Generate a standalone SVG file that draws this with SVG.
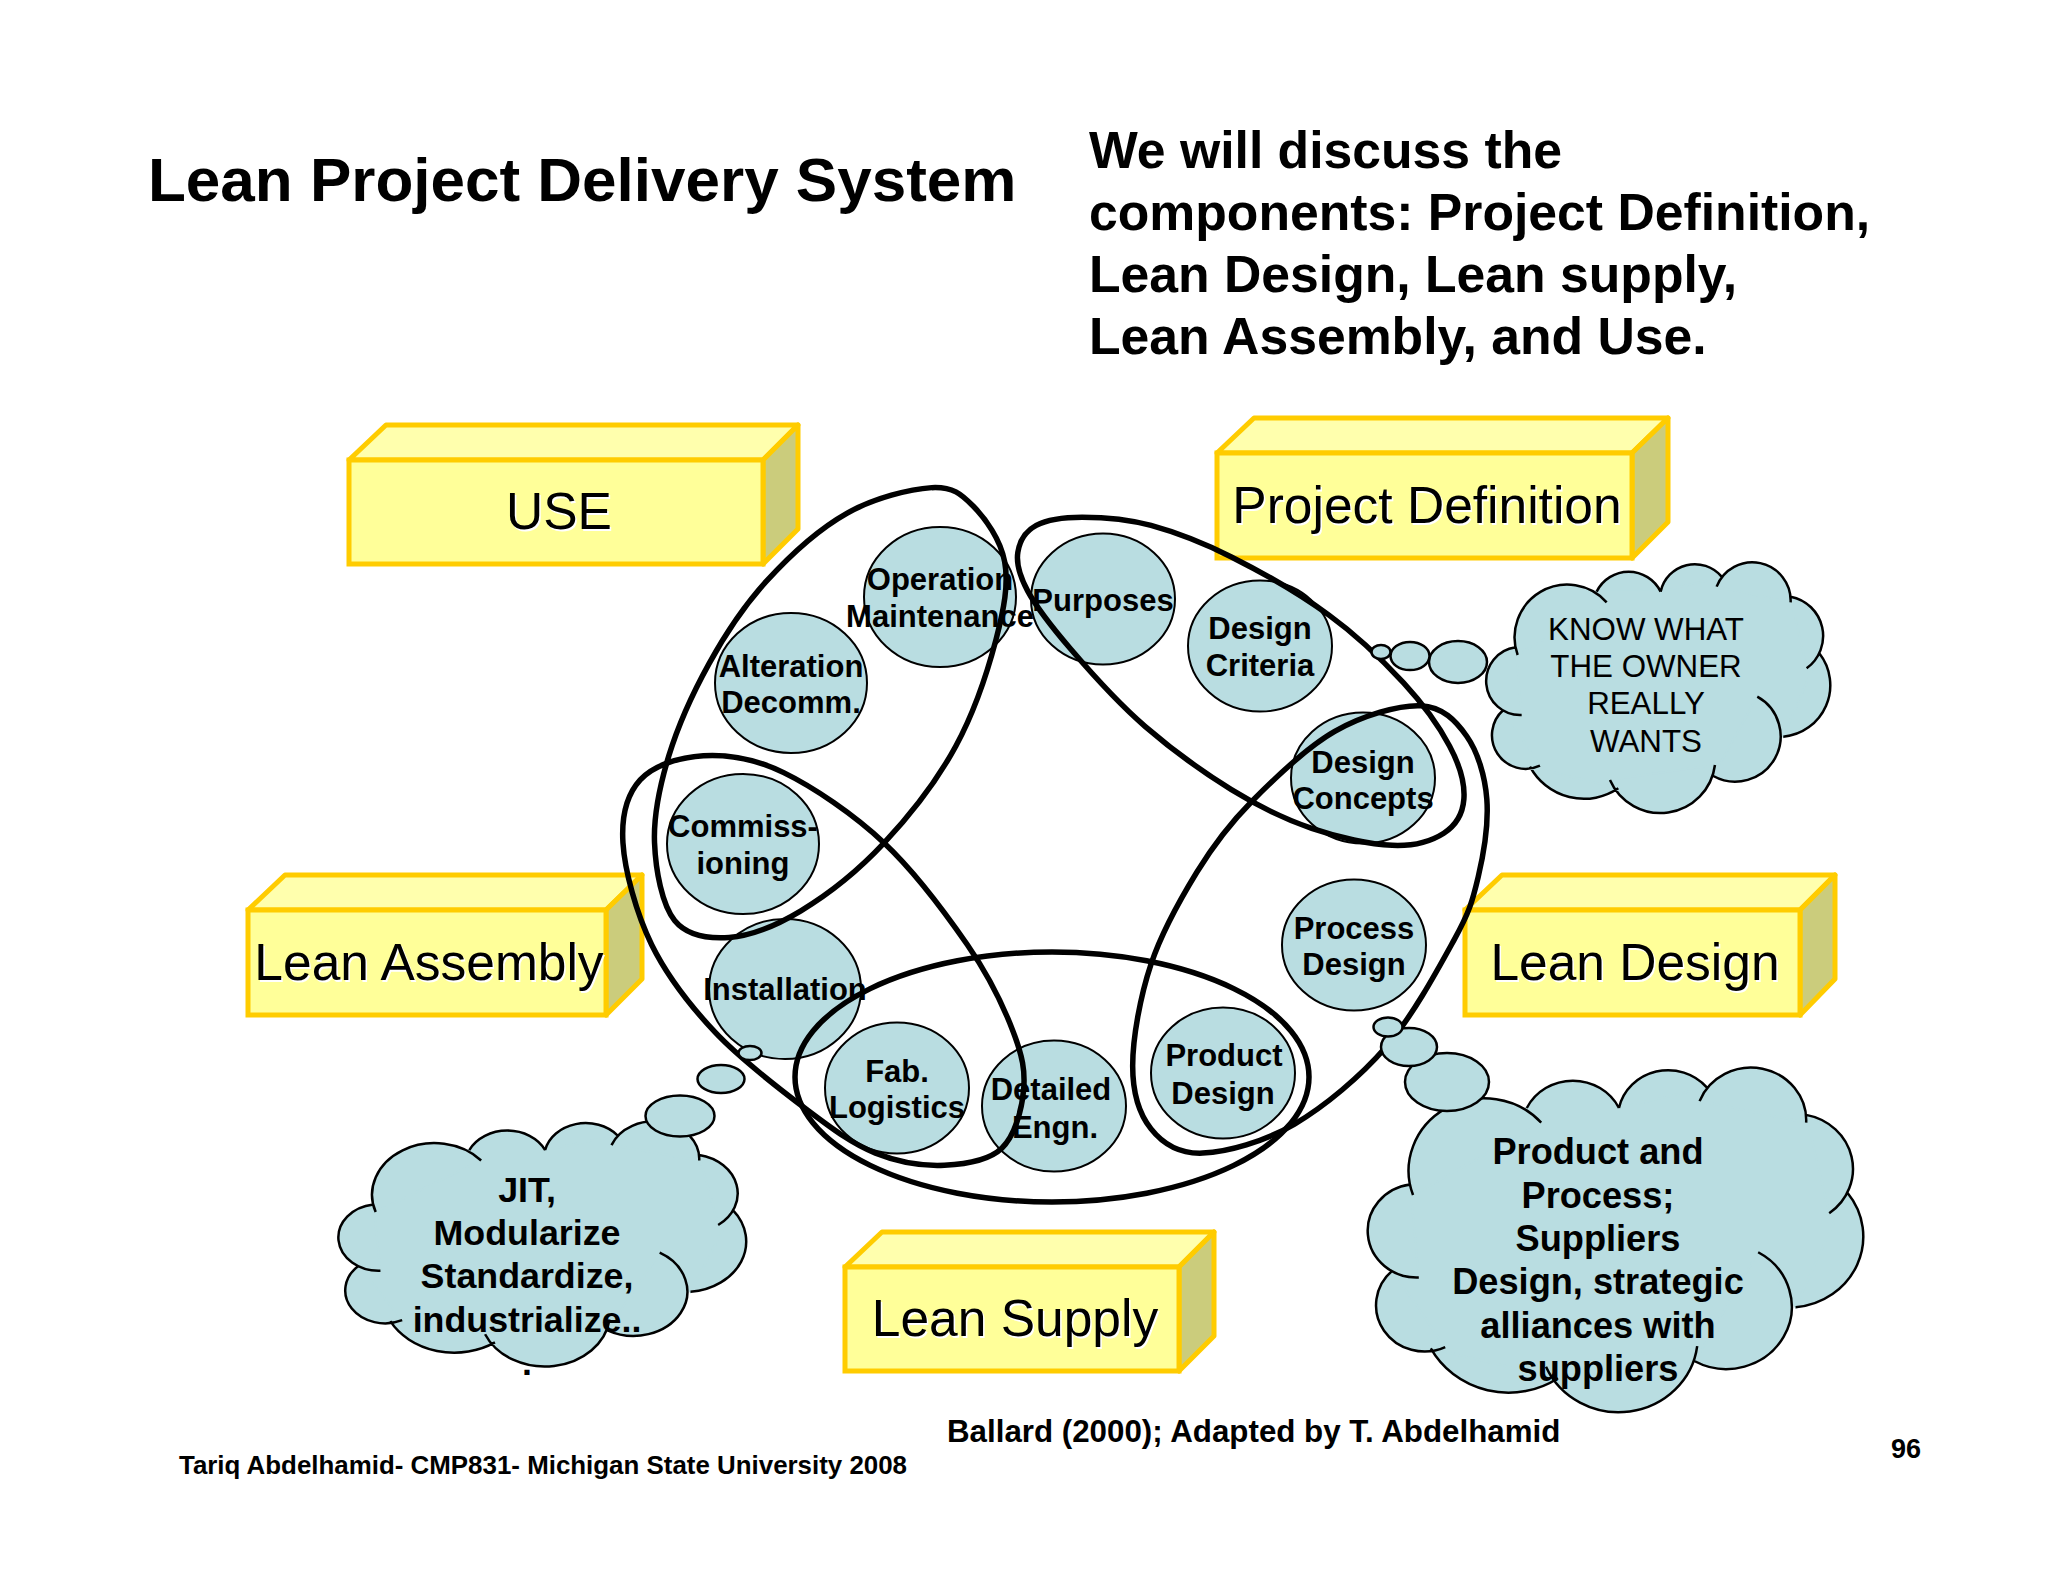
<svg xmlns="http://www.w3.org/2000/svg" width="2048" height="1582" viewBox="0 0 2048 1582">
<style>
text{font-family:"Liberation Sans",Arial,sans-serif;fill:#000;text-anchor:middle}
.t{font-weight:bold;text-anchor:start}
.n{font-weight:bold;font-size:31px}
.b{font-size:51.5px;text-shadow:1.5px 1.5px 0 #fff}
.front{fill:#ffff99;stroke:#ffcc00;stroke-width:5}
.top{fill:#ffffad;stroke:#ffcc00;stroke-width:5;stroke-linejoin:round}
.side{fill:#cbcc7c;stroke:#ffcc00;stroke-width:5;stroke-linejoin:round}
.c{fill:#b9dde1;stroke:#000;stroke-width:2}
.bub{fill:#b9dde1;stroke:#000;stroke-width:2.5}
.e{fill:none;stroke:#000;stroke-width:5.5;vector-effect:non-scaling-stroke}
.cf{fill:#b9dde1;stroke:none}
.cp{fill:#b9dde1;stroke:#b9dde1;stroke-width:2;vector-effect:non-scaling-stroke}
.cs{fill:none;stroke:#000;stroke-width:2.5;vector-effect:non-scaling-stroke}
</style>
<defs>
<g id="cloud">
<path class="cf" d="M503 345A158 158 0 0 1 770 187Z M740 155A107 107 0 0 1 932 155Z M932 155A105 105 0 0 1 1115 110Z M1100 140A115 115 0 0 1 1322 187Z M1322 170A120 120 0 0 1 1370 385Z M1408 340A155 155 0 0 1 1300 590Z M1222 470A136 136 0 0 1 1090 708Z M1095 675A165 165 0 0 1 780 720Z M805 745A184 184 0 0 1 540 680Z M570 677A101 101 0 0 1 460 510Z M515 525A102 102 0 0 1 497 322Z"/>
<path class="cp" d="M503 345L770 187L740 155L932 155L1115 110L1100 140L1322 187L1322 170L1370 385L1408 340L1300 590L1222 470L1090 708L1095 675L780 720L805 745L540 680L570 677L460 510L515 525L497 322Z"/>
<path class="cs" d="M503 345A158 158 0 0 1 770 187 M740 155A107 107 0 0 1 932 155 M932 155A105 105 0 0 1 1115 110 M1100 140A115 115 0 0 1 1322 187 M1322 170A120 120 0 0 1 1370 385 M1408 340A155 155 0 0 1 1300 590 M1222 470A136 136 0 0 1 1090 708 M1095 675A165 165 0 0 1 780 720 M805 745A184 184 0 0 1 540 680 M570 677A101 101 0 0 1 460 510 M515 525A102 102 0 0 1 497 322"/>
</g>
</defs>
<rect width="2048" height="1582" fill="#fff"/>
<g id="title">
<text class="t" x="148" y="201" font-size="62">Lean Project Delivery System</text>
<text class="t" x="1089" y="168" font-size="51.7">We will discuss the</text>
<text class="t" x="1089" y="230" font-size="51.7">components: Project Definition,</text>
<text class="t" x="1089" y="292" font-size="51.7">Lean Design, Lean supply,</text>
<text class="t" x="1089" y="354" font-size="51.7">Lean Assembly, and Use.</text>
</g>
<g id="box-use">
<path class="top" d="M349 460L386 425H798L763 460Z"/><path class="side" d="M763 460L798 425V529L763 564Z"/><rect class="front" x="349" y="460" width="414" height="104"/>
<text class="b" x="559" y="529">USE</text></g>
<g id="box-project-definition">
<path class="top" d="M1217 453L1254 418H1668L1632 453Z"/><path class="side" d="M1632 453L1668 418V522L1632 558Z"/><rect class="front" x="1217" y="453" width="415" height="105"/>
<text class="b" x="1427" y="523">Project Definition</text></g>
<g id="box-lean-assembly">
<path class="top" d="M248 910L285 875H642L606 910Z"/><path class="side" d="M606 910L642 875V979L606 1015Z"/><rect class="front" x="248" y="910" width="358" height="105"/>
<text class="b" x="429" y="980">Lean Assembly</text></g>
<g id="box-lean-design">
<path class="top" d="M1465 910L1502 875H1835L1800 910Z"/><path class="side" d="M1800 910L1835 875V979L1800 1015Z"/><rect class="front" x="1465" y="910" width="335" height="105"/>
<text class="b" x="1635" y="980">Lean Design</text></g>
<g id="box-lean-supply">
<path class="top" d="M845 1267L882 1232H1214L1179 1267Z"/><path class="side" d="M1179 1267L1214 1232V1336L1179 1371Z"/><rect class="front" x="845" y="1267" width="334" height="104"/>
<text class="b" x="1015" y="1336">Lean Supply</text></g>

<g id="node-operation"><ellipse class="c" cx="940" cy="597" rx="76" ry="70"/><text class="n" x="940" y="590">Operation</text><text class="n" x="940" y="627">Maintenance</text></g>
<g id="node-alteration"><ellipse class="c" cx="791" cy="683" rx="76" ry="70"/><text class="n" x="791" y="677">Alteration</text><text class="n" x="791" y="713">Decomm.</text></g>
<g id="node-commissioning"><ellipse class="c" cx="743" cy="844" rx="76" ry="70"/><text class="n" x="743" y="837">Commiss-</text><text class="n" x="743" y="874">ioning</text></g>
<g id="node-installation"><ellipse class="c" cx="785" cy="989" rx="76" ry="70"/><text class="n" x="785" y="1000">Installation</text></g>
<g id="node-fab"><ellipse class="c" cx="897" cy="1088" rx="72" ry="65.5"/><text class="n" x="897" y="1082">Fab.</text><text class="n" x="897" y="1118">Logistics</text></g>
<g id="node-detailed"><ellipse class="c" cx="1054" cy="1106" rx="72" ry="65.5"/><text class="n" x="1051" y="1100">Detailed</text><text class="n" x="1055" y="1138">Engn.</text></g>
<g id="node-product"><ellipse class="c" cx="1223" cy="1073" rx="72" ry="65.5"/><text class="n" x="1224" y="1066">Product</text><text class="n" x="1223" y="1104">Design</text></g>
<g id="node-process"><ellipse class="c" cx="1354" cy="945" rx="72" ry="65.5"/><text class="n" x="1354" y="939">Process</text><text class="n" x="1354" y="975">Design</text></g>
<g id="node-concepts"><ellipse class="c" cx="1363" cy="778" rx="72" ry="65.5"/><text class="n" x="1363" y="773">Design</text><text class="n" x="1363" y="809">Concepts</text></g>
<g id="node-criteria"><ellipse class="c" cx="1260" cy="646" rx="72" ry="65.5"/><text class="n" x="1260" y="639">Design</text><text class="n" x="1260" y="676">Criteria</text></g>
<g id="node-purposes"><ellipse class="c" cx="1103" cy="599" rx="72" ry="65.5"/><text class="n" x="1103" y="611">Purposes</text></g>

<g id="connectors">
<g transform="translate(600 460) scale(.574 .4847)">
<path class="e" d="M578 57C615 55 629 70 650 95S698 164 705 210S704 307 690 370S652 520 620 590S540 733 495 790S395 898 350 930S262 982 225 985S152 982 130 950S97 847 95 790S104 672 120 610S162 480 190 420S250 302 290 250S382 142 430 110S540 60 578 57Z"/>
<path class="e" d="M840 118C873 118 917 121 960 135S1048 169 1100 200S1220 277 1270 320S1365 415 1400 460S1462 550 1480 590S1507 670 1505 700S1491 754 1470 770S1418 797 1380 795S1287 779 1240 760S1148 715 1100 680S997 598 950 550S854 437 820 390S760 303 745 270S725 212 728 190S741 147 760 135S807 118 840 118Z"/>
<path class="e" d="M1430 507C1468 509 1491 538 1510 570S1542 652 1545 700S1540 810 1530 860S1515 932 1488 990S1416 1147 1370 1210S1263 1333 1210 1370S1092 1428 1050 1430S980 1410 960 1380S928 1307 928 1250S941 1107 960 1040S1011 906 1040 850S1095 753 1135 705S1231 593 1280 560S1392 505 1430 507Z"/>
<path class="e" d="M180 610C222 607 268 615 320 645S442 731 495 790S602 935 640 1000S704 1130 720 1180S741 1260 738 1300S723 1394 700 1420S637 1453 600 1455S520 1449 480 1430S407 1382 360 1340S245 1237 200 1180S117 1065 90 1000S43 847 40 790S47 690 70 660S138 613 180 610Z"/>
</g>
<ellipse class="e" cx="1052" cy="1077" rx="257" ry="125"/>
</g>

<g id="cloud-owner">
<use href="#cloud" transform="translate(1350 540) scale(.3333)"/>
<ellipse class="bub" cx="1458" cy="662" rx="29" ry="21"/><ellipse class="bub" cx="1410" cy="656" rx="19.5" ry="14"/><ellipse class="bub" cx="1381" cy="652" rx="9.5" ry="7"/>
<g font-size="31.3"><text x="1646" y="640">KNOW WHAT</text><text x="1646" y="677">THE OWNER</text><text x="1646" y="714">REALLY</text><text x="1646" y="752">WANTS</text></g>
</g>
<g id="cloud-product">
<use href="#cloud" transform="translate(1171.6 1037) scale(.48 .458)"/>
<ellipse class="bub" cx="1447" cy="1082" rx="42" ry="29"/><ellipse class="bub" cx="1409" cy="1047" rx="28" ry="19"/><ellipse class="bub" cx="1388" cy="1027" rx="14.5" ry="9.5"/>
<g font-size="36.2" font-weight="bold"><text x="1598" y="1164">Product and</text><text x="1598" y="1208">Process;</text><text x="1598" y="1251">Suppliers</text><text x="1598" y="1294">Design, strategic</text><text x="1598" y="1338">alliances with</text><text x="1598" y="1381">suppliers</text></g>
</g>
<g id="cloud-jit">
<use href="#cloud" transform="translate(177 1099.5) scale(.395 .326)"/>
<ellipse class="bub" cx="680" cy="1116" rx="34.5" ry="20.5"/><ellipse class="bub" cx="721" cy="1079" rx="23.5" ry="14"/><ellipse class="bub" cx="750" cy="1053" rx="11.5" ry="7"/>
<g font-size="35.8" font-weight="bold"><text x="527" y="1202">JIT,</text><text x="527" y="1245">Modularize</text><text x="527" y="1288">Standardize,</text><text x="527" y="1332">industrialize..</text><text x="527" y="1375">.</text></g>
</g>
<g id="footer">
<text class="t" x="947" y="1442" font-size="31.3">Ballard (2000); Adapted by T. Abdelhamid</text>
<text class="t" x="179" y="1474" font-size="25.9">Tariq Abdelhamid- CMP831- Michigan State University 2008</text>
<text class="t" x="1891" y="1458" font-size="27">96</text>
</g>
</svg>
